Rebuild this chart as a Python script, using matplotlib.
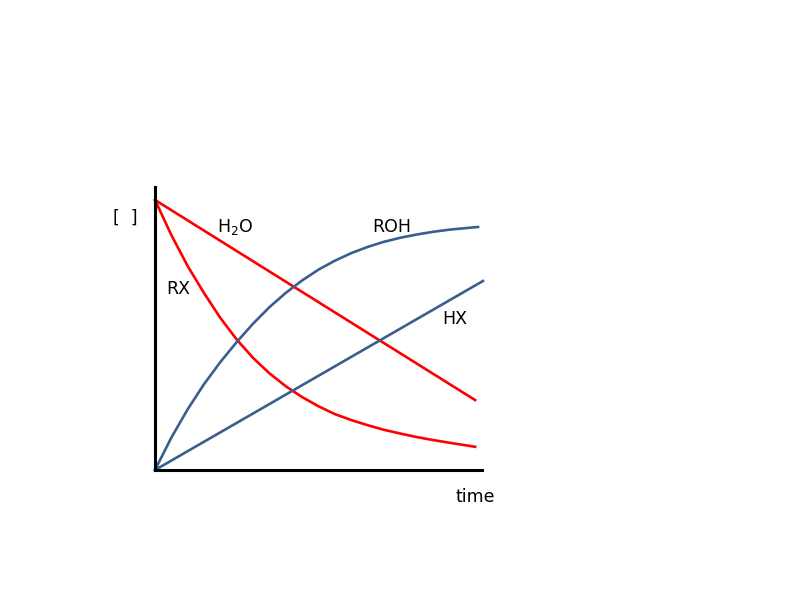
import numpy as np
import matplotlib.pyplot as plt

# time axis (arbitrary units) and concentrations
t_rx = [0, 0.5, 1.0, 1.5, 2.0, 2.5, 3.0, 3.5, 4.0, 4.5, 5.0, 5.5, 6.0, 6.5, 7.0, 7.5, 8.0, 8.5, 9.0, 9.79]
rx = [1.0, 0.87, 0.755, 0.655, 0.563, 0.483, 0.415, 0.358, 0.31, 0.27, 0.236, 0.207, 0.185,
      0.166, 0.149, 0.135, 0.122, 0.111, 0.101, 0.086]

t_roh = [0, 0.5, 1.0, 1.5, 2.0, 2.5, 3.0, 3.5, 4.0, 4.5, 5.0, 5.5, 6.0, 6.5, 7.0, 7.5, 8.0, 8.5, 9.0, 9.88]
roh = [0, 0.12, 0.225, 0.318, 0.40, 0.474, 0.542, 0.603, 0.656, 0.702, 0.742, 0.775, 0.803,
       0.826, 0.845, 0.86, 0.872, 0.882, 0.89, 0.9]

t_h2o = [0, 9.79]
h2o = [1.0, 0.259]

t_hx = [0, 10.03]
hx = [0, 0.7]

red = '#FF0000'
blue = '#3B5E8C'

fig = plt.figure(figsize=(8, 6), dpi=100)
ax = fig.add_axes([155/800, (600-470)/600, (482-155)/800, (470-187)/600])

ax.plot(t_h2o, h2o, color=red, lw=1.9, clip_on=False)
ax.plot(t_rx, rx, color=red, lw=1.9, clip_on=False)
ax.plot(t_roh, roh, color=blue, lw=1.9, clip_on=False)
ax.plot(t_hx, hx, color=blue, lw=1.9, clip_on=False)

ax.set_xlim(0, 10)
ax.set_ylim(0, 1.048)
ax.set_xticks([])
ax.set_yticks([])
for s in ['top', 'right']:
    ax.spines[s].set_visible(False)
for s in ['left', 'bottom']:
    ax.spines[s].set_linewidth(2.2)
    ax.spines[s].set_color('black')

fs = 12.5
ax.text(-0.92, 0.933, '[  ]', fontsize=fs, ha='center', va='center', clip_on=False)
ax.text(2.45, 0.90, 'H$_2$O', fontsize=fs, ha='center', va='center')
ax.text(7.25, 0.90, 'ROH', fontsize=fs, ha='center', va='center')
ax.text(0.70, 0.67, 'RX', fontsize=fs, ha='center', va='center')
ax.text(9.17, 0.56, 'HX', fontsize=fs, ha='center', va='center')
ax.text(9.79, -0.10, 'time', fontsize=fs, ha='center', va='center', clip_on=False)

fig.savefig('out.png', dpi=100)
